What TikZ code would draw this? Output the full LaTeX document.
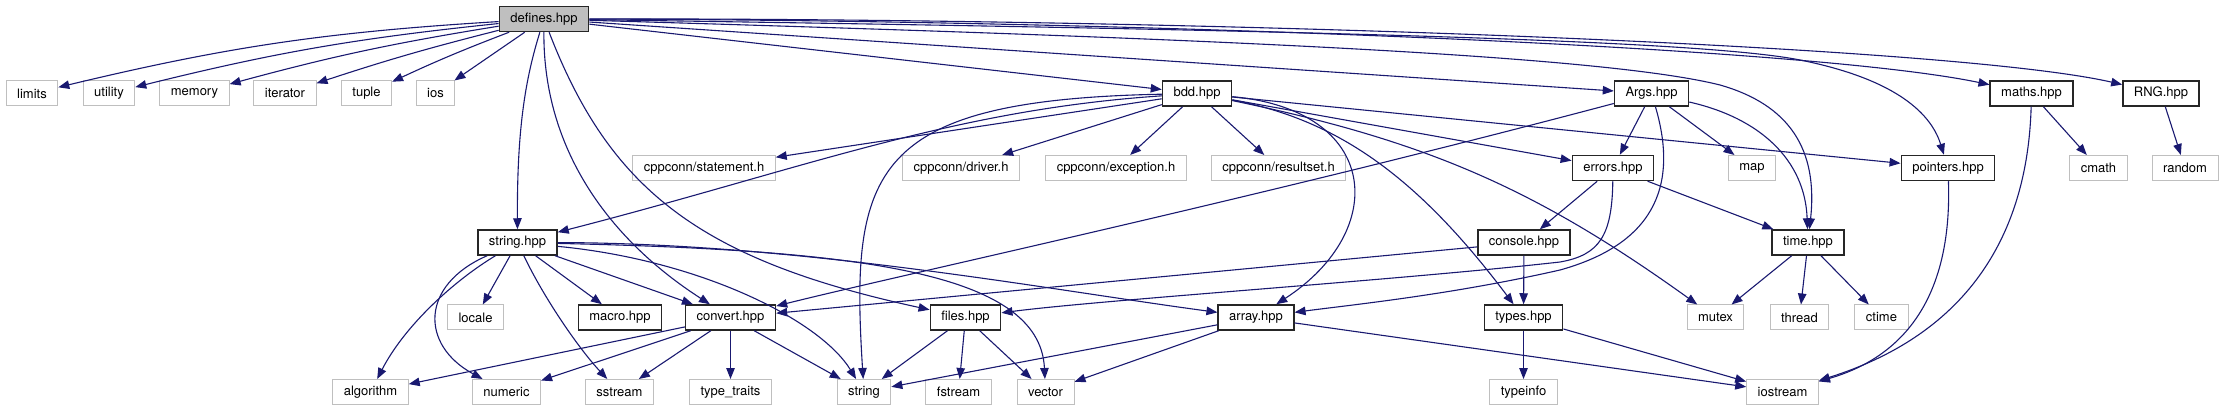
\documentclass[tikz,border=0pt]{standalone}
\usepackage{fontspec}
\setmainfont{TeX Gyre Heros}
\usetikzlibrary{arrows.meta}

\definecolor{edgeblue}{HTML}{191970}
\definecolor{grey75}{HTML}{BFBFBF}

\tikzset{
  hdr/.style={font=\fontsize{13}{15}\selectfont, inner xsep=11pt, inner ysep=0pt, minimum height=25pt, fill=white},
  extbox/.style={hdr, draw=grey75, line width=1pt},
  incbox/.style={hdr, draw=black!85, line width=1.5pt},
  rootbox/.style={incbox, fill=grey75},
  dep/.style={draw=edgeblue, line width=1.1pt, -{Triangle[length=11pt,width=8.5pt]}}
}

\begin{document}
\begin{tikzpicture}[x=1pt, y=-1pt]
  \useasboundingbox (0,0) rectangle (2223,411);

  \node[rootbox] (defines) at (544,19) {defines.hpp};

  % row 1
  \node[extbox] (limits) at (32,93.5) {limits};
  \node[extbox] (utility) at (109,93.5) {utility};
  \node[extbox] (memory) at (194.5,93.5) {memory};
  \node[extbox] (iterator) at (285,93.5) {iterator};
  \node[extbox] (tuple) at (366.5,93.5) {tuple};
  \node[extbox] (ios) at (435.5,93.5) {ios};
  \node[incbox] (bdd) at (1197,93.5) {bdd.hpp};
  \node[incbox] (args) at (1651.5,93.5) {Args.hpp};
  \node[incbox] (maths) at (2031.5,93.5) {maths.hpp};
  \node[incbox] (rng) at (2161,93.5) {RNG.hpp};

  % row 2
  \node[extbox] (statement) at (704,168) {cppconn/statement.h};
  \node[extbox] (driver) at (961,168) {cppconn/driver.h};
  \node[extbox] (exception) at (1116,168) {cppconn/exception.h};
  \node[extbox] (resultset) at (1278.5,168) {cppconn/resultset.h};
  \node[incbox] (errors) at (1613,168) {errors.hpp};
  \node[extbox] (map) at (1752,168) {map};
  \node[incbox] (pointers) at (1948,168) {pointers.hpp};
  \node[extbox] (cmath) at (2098.5,168) {cmath};
  \node[extbox] (random) at (2185,168) {random};

  % row 3
  \node[incbox] (stringhpp) at (517.5,242.5) {string.hpp};
  \node[incbox] (console) at (1524,242.5) {console.hpp};
  \node[incbox] (timehpp) at (1808,242.5) {time.hpp};

  % row 4
  \node[extbox] (locale) at (475.5,317.5) {locale};
  \node[incbox] (macro) at (620,317.5) {macro.hpp};
  \node[incbox] (convert) at (730.5,317.5) {convert.hpp};
  \node[incbox] (files) at (965.5,317.5) {files.hpp};
  \node[incbox] (array) at (1256,317.5) {array.hpp};
  \node[incbox] (types) at (1523.5,317.5) {types.hpp};
  \node[extbox] (mutex) at (1715.5,317.5) {mutex};
  \node[extbox] (thread) at (1799.5,317.5) {thread};
  \node[extbox] (ctime) at (1881.5,317.5) {ctime};

  % row 5
  \node[extbox] (algorithm) at (370.5,392) {algorithm};
  \node[extbox] (numeric) at (506.5,392) {numeric};
  \node[extbox] (sstream) at (619.5,392) {sstream};
  \node[extbox] (typetraits) at (730.5,392) {type\_traits};
  \node[extbox] (string) at (864,392) {string};
  \node[extbox] (fstream) at (958.5,392) {fstream};
  \node[extbox] (vector) at (1045.5,392) {vector};
  \node[extbox] (typeinfo) at (1523.5,392) {typeinfo};
  \node[extbox] (iostream) at (1782.5,392) {iostream};

  % defines.hpp
  \draw[dep] (defines) to[bend right=5] (limits);
  \draw[dep] (defines) to[bend right=4] (utility);
  \draw[dep] (defines) to[bend right=3] (memory);
  \draw[dep] (defines) to[bend right=2] (iterator);
  \draw[dep] (defines) to[bend right=2] (tuple);
  \draw[dep] (defines) -- (ios);
  \draw[dep] (defines) .. controls (525,80) and (517,130) .. (stringhpp);
  \draw[dep] (defines) .. controls (543,150) and (610,240) .. (convert);
  \draw[dep] (defines) .. controls (610,190) and (700,260) .. (files);
  \draw[dep] (defines) -- (bdd);
  \draw[dep] (defines) -- (args);
  \draw[dep] (defines) .. controls (1200,38) and (1600,55) .. (1720,85)
                       .. controls (1790,105) and (1818,150) .. (timehpp);
  \draw[dep] (defines) .. controls (1300,30) and (1700,40) .. (1800,60)
                       .. controls (1890,78) and (1930,110) .. (pointers);
  \draw[dep] (defines) .. controls (1100,20) and (1800,45) .. (maths);
  \draw[dep] (defines) .. controls (1200,18) and (1950,45) .. (rng);

  % bdd.hpp
  \draw[dep] (bdd) -- (statement);
  \draw[dep] (bdd) -- (driver);
  \draw[dep] (bdd) -- (exception);
  \draw[dep] (bdd) -- (resultset);
  \draw[dep] (bdd) .. controls (950,110) and (800,170) .. (stringhpp);
  \draw[dep] (bdd) .. controls (870,100) and (850,170) .. (string);
  \draw[dep] (bdd) .. controls (1380,110) and (1390,230) .. (array);
  \draw[dep] (bdd) .. controls (1340,120) and (1420,180) .. (types);
  \draw[dep] (bdd) to[bend left=12] (mutex);
  \draw[dep] (bdd) -- (errors);
  \draw[dep] (bdd) -- (pointers);

  % Args.hpp
  \draw[dep] (args) -- (errors);
  \draw[dep] (args) -- (map);
  \draw[dep] (args) .. controls (1760,118) and (1805,160) .. (timehpp);
  \draw[dep] (args) .. controls (1250,200) and (900,275) .. (convert);
  \draw[dep] (args) .. controls (1680,190) and (1650,245) .. (1560,270)
                    .. controls (1450,295) and (1350,305) .. (array);

  % errors.hpp, console.hpp
  \draw[dep] (errors) -- (console);
  \draw[dep] (errors) -- (timehpp);
  \draw[dep] (errors) .. controls (1612,235) and (1600,255) .. (1560,262)
                      .. controls (1400,280) and (1100,300) .. (files);
  \draw[dep] (console) -- (types);
  \draw[dep] (console) -- (convert);

  % time.hpp, pointers.hpp, maths.hpp, RNG.hpp
  \draw[dep] (timehpp) -- (mutex);
  \draw[dep] (timehpp) -- (thread);
  \draw[dep] (timehpp) -- (ctime);
  \draw[dep] (pointers) .. controls (1952,290) and (1910,355) .. (iostream);
  \draw[dep] (maths) -- (cmath);
  \draw[dep] (maths) .. controls (2028,220) and (1980,330) .. (iostream);
  \draw[dep] (rng) -- (random);

  % string.hpp
  \draw[dep] (stringhpp) .. controls (455,280) and (405,325) .. (algorithm);
  \draw[dep] (stringhpp) .. controls (420,285) and (420,345) .. (numeric);
  \draw[dep] (stringhpp) -- (locale);
  \draw[dep] (stringhpp) .. controls (545,300) and (580,350) .. (sstream);
  \draw[dep] (stringhpp) -- (macro);
  \draw[dep] (stringhpp) -- (convert);
  \draw[dep] (stringhpp) .. controls (700,260) and (820,320) .. (string);
  \draw[dep] (stringhpp) .. controls (850,250) and (1040,270) .. (vector);
  \draw[dep] (stringhpp) .. controls (800,243) and (1050,290) .. (array);

  % convert.hpp, files.hpp, array.hpp, types.hpp
  \draw[dep] (convert) -- (algorithm);
  \draw[dep] (convert) -- (numeric);
  \draw[dep] (convert) -- (sstream);
  \draw[dep] (convert) -- (typetraits);
  \draw[dep] (convert) -- (string);
  \draw[dep] (files) -- (string);
  \draw[dep] (files) -- (fstream);
  \draw[dep] (files) -- (vector);
  \draw[dep] (array) -- (string);
  \draw[dep] (array) -- (vector);
  \draw[dep] (array) -- (iostream);
  \draw[dep] (types) -- (typeinfo);
  \draw[dep] (types) -- (iostream);
\end{tikzpicture}
\end{document}
